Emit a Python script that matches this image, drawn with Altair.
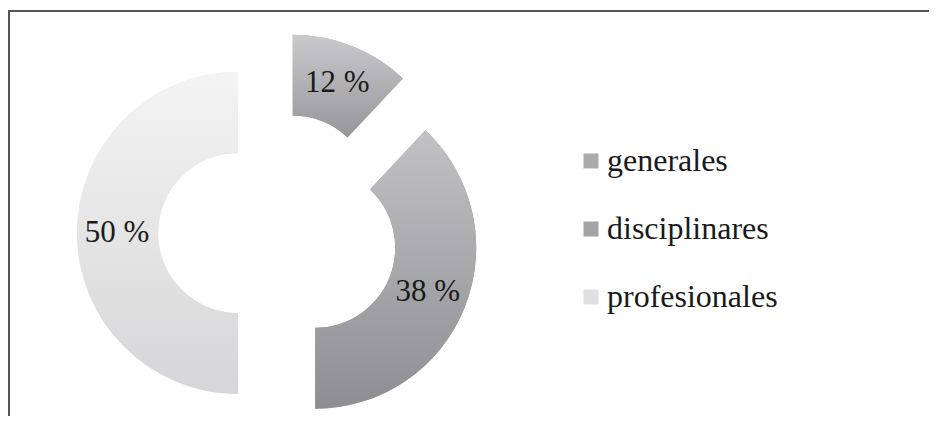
import math
import altair as alt
import pandas as pd

# ---- data ----
categories = ["generales", "disciplinares", "profesionales"]
values = [12, 38, 50]
labels = ["12 %", "38 %", "50 %"]

# ---- style ----
legend_colors = ["#ababae", "#a3a3a6", "#e0e0e2"]
grad_top = ["#cacacd", "#c2c2c5", "#f4f4f4"]
grad_bottom = ["#96969a", "#8e8e92", "#d6d6d8"]
SERIF = "Liberation Serif"

df = pd.DataFrame({
    "category": categories,
    "value": values,
    "label": labels,
    "order": list(range(len(categories))),
})

W, H = 921, 405
CX, CY, EXPLODE = 270, 222, 40
R_OUT, R_IN = 161, 80


def gradient(top, bottom):
    return {
        "gradient": "linear",
        "x1": 0, "y1": 0, "x2": 0, "y2": 1,
        "stops": [{"offset": 0, "color": top}, {"offset": 1, "color": bottom}],
    }


theta_scale = alt.Scale(domain=[0, 100], range=[0, 2 * math.pi])

base = alt.Chart(df).transform_window(
    end="sum(value)", sort=[alt.SortField("order")], frame=[None, 0]
).transform_calculate(
    start="datum.end - datum.value",
    mid="datum.end - datum.value / 2",
).transform_calculate(
    ang="datum.mid / 100 * 2 * PI",
).transform_calculate(
    cx=f"{CX} + {EXPLODE} * sin(datum.ang)",
    cy=f"{CY} - {EXPLODE} * cos(datum.ang)",
)

pos = dict(
    x=alt.X("cx:Q", scale=None, axis=None),
    y=alt.Y("cy:Q", scale=None, axis=None),
)

arcs_legend = base.mark_arc(outerRadius=R_OUT, innerRadius=R_IN).encode(
    theta=alt.Theta("start:Q", scale=theta_scale),
    theta2="end:Q",
    color=alt.Color(
        "category:N",
        sort=categories,
        scale=alt.Scale(domain=categories, range=legend_colors),
        legend=alt.Legend(
            orient="none", legendX=567, legendY=134, title=None,
            symbolType="square", symbolSize=225, symbolStrokeWidth=0,
            labelFont=SERIF, labelFontSize=32, labelColor="#1a1a1a",
            rowPadding=36, labelOffset=0, padding=0, labelLimit=400,
        ),
    ),
    **pos,
)

fill_cond = {
    "condition": [
        {"test": f"datum.category === '{categories[i]}'",
         "value": gradient(grad_top[i], grad_bottom[i])}
        for i in range(len(categories) - 1)
    ],
    "value": gradient(grad_top[-1], grad_bottom[-1]),
}

arcs_grad = base.mark_arc(outerRadius=R_OUT, innerRadius=R_IN).encode(
    theta=alt.Theta("start:Q", scale=theta_scale),
    theta2="end:Q",
    fill=fill_cond,
    **pos,
)

texts = base.mark_text(
    radius=121, font=SERIF, fontSize=31, color="#1a1a1a",
    align="center", baseline="middle",
).encode(
    theta=alt.Theta("mid:Q", scale=theta_scale),
    text="label:N",
    **pos,
)

frame_df = pd.DataFrame({"k": [0]})
top_rule = alt.Chart(frame_df).mark_rule(color="#555555", strokeWidth=2).encode(
    x=alt.value(1), x2=alt.value(W + 20), y=alt.value(0)
)
left_rule = alt.Chart(frame_df).mark_rule(color="#555555", strokeWidth=2).encode(
    x=alt.value(1), y=alt.value(-1), y2=alt.value(H + 20)
)

chart = alt.layer(arcs_legend, arcs_grad, texts, top_rule, left_rule).properties(
    width=W, height=H,
    padding={"left": 0, "top": 3, "right": 0, "bottom": 0},
    autosize=alt.AutoSizeParams(type="none"),
    background="white",
).configure_view(stroke=None)

chart.save("out.html", embed_options={"renderer": "svg", "actions": False})
